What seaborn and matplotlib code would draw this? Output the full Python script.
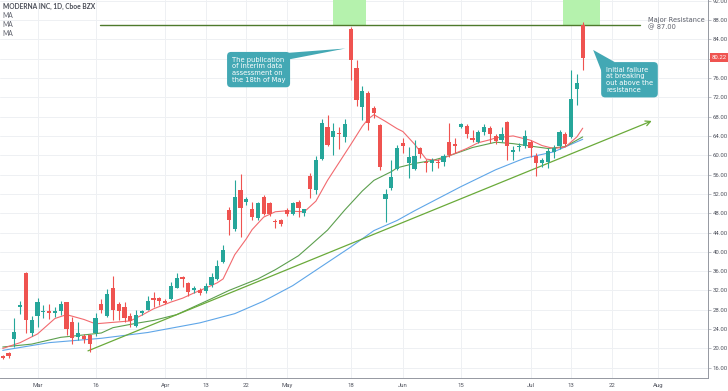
import matplotlib
matplotlib.use("Agg")
import matplotlib.pyplot as plt
from matplotlib.patches import Polygon, Rectangle
import matplotlib.transforms as mtransforms
import seaborn as sns
import pandas as pd
import numpy as np

# daily candles (Moderna, Cboe BZX), 21 Feb -> 15 Jul 2020
opens = [18.4, 19.0, 22.0, 28.6, 35.7, 23.1, 26.8, 27.5, 27.8, 27.3,
         27.7, 29.7, 25.4, 22.3, 22.6, 22.8, 23.3, 29.1, 26.8, 32.5,
         29.1, 28.5, 26.8, 24.7, 27.3, 28.0, 30.4, 30.4, 29.9, 30.3,
         32.5, 34.7, 33.6, 32.2, 32.1, 31.8, 33.2, 34.4, 37.9, 48.7,
         44.8, 52.7, 50.4, 48.9, 47.1, 51.3, 50.1, 46.4, 46.5, 48.6,
         47.9, 50.3, 48.1, 55.6, 52.9, 59.3, 65.9, 63.7, 64.6, 63.7,
         86.1, 78.0, 69.9, 72.9, 69.7, 66.2, 51.0, 53.3, 57.2, 62.6,
         58.4, 57.2, 61.4, 58.7, 58.3, 58.7, 58.6, 62.8, 62.4, 65.9,
         66.1, 63.5, 62.8, 64.8, 65.7, 63.9, 63.1, 66.8, 60.7, 61.7,
         61.9, 62.8, 59.8, 58.4, 58.6, 60.7, 61.9, 64.5, 63.8, 73.8,
         87.0]
highs = [18.7, 19.3, 26.3, 29.8, 35.8, 26.8, 30.5, 28.9, 29.3, 28.5,
         29.8, 29.7, 26.5, 25.4, 23.0, 23.0, 27.4, 30.3, 32.3, 35.1,
         29.7, 29.7, 27.3, 27.9, 28.0, 30.8, 31.7, 30.7, 30.2, 33.8,
         35.6, 34.9, 33.8, 33.0, 32.5, 33.5, 35.6, 38.3, 41.4, 49.2,
         54.8, 56.2, 51.4, 50.4, 50.4, 51.8, 50.4, 46.9, 46.7, 49.1,
         50.4, 50.7, 48.9, 56.3, 59.9, 67.6, 68.3, 66.6, 65.9, 67.4,
         86.6, 79.7, 74.3, 73.2, 70.2, 66.4, 53.1, 59.0, 62.1, 63.5,
         61.8, 63.1, 61.8, 59.2, 59.4, 59.2, 60.2, 66.6, 63.5, 66.7,
         66.5, 65.2, 65.2, 66.4, 66.1, 64.5, 65.9, 67.0, 61.9, 62.5,
         65.2, 63.2, 60.4, 59.4, 61.4, 62.1, 65.2, 64.9, 77.6, 76.9,
         87.6]
lows = [17.8, 18.1, 20.4, 27.1, 23.1, 22.6, 24.5, 26.3, 26.0, 26.5,
        27.0, 22.7, 21.0, 21.8, 21.2, 19.2, 22.6, 27.3, 26.6, 25.8,
        25.8, 25.4, 24.5, 24.5, 27.0, 27.9, 28.6, 29.0, 29.2, 30.1,
        32.5, 32.7, 30.9, 31.5, 31.0, 31.5, 32.8, 34.1, 37.6, 43.4,
        44.3, 43.0, 49.8, 46.6, 46.6, 47.6, 47.4, 44.9, 45.3, 47.5,
        47.6, 47.3, 47.5, 51.1, 52.0, 59.0, 61.9, 60.0, 61.2, 62.8,
        75.6, 70.2, 67.3, 65.2, 67.7, 56.9, 46.2, 52.8, 56.9, 60.4,
        55.2, 56.9, 59.5, 56.6, 56.7, 57.4, 57.8, 59.6, 60.4, 65.6,
        63.6, 62.8, 62.5, 64.2, 62.6, 62.3, 62.8, 59.0, 59.0, 60.8,
        61.4, 59.7, 55.8, 57.6, 57.3, 59.4, 61.2, 61.9, 63.5, 70.4,
        77.6]
closes = [18.0, 18.4, 23.5, 28.9, 25.9, 25.8, 29.7, 27.8, 27.3, 27.8,
          29.2, 24.0, 22.2, 23.3, 22.0, 21.0, 26.2, 28.0, 31.3, 28.0,
          27.8, 26.3, 25.6, 27.0, 27.7, 29.8, 30.0, 29.8, 29.4, 33.0,
          34.5, 34.3, 31.6, 32.4, 31.5, 33.0, 34.8, 37.0, 40.3, 46.6,
          51.3, 49.1, 51.0, 47.2, 50.1, 47.9, 47.8, 46.2, 45.8, 47.9,
          50.1, 49.1, 48.8, 53.1, 59.1, 66.7, 62.1, 65.0, 64.3, 66.4,
          79.8, 71.5, 73.3, 66.7, 68.8, 57.6, 52.0, 55.4, 61.4, 61.9,
          59.6, 59.8, 60.3, 58.3, 59.0, 58.3, 59.8, 60.0, 61.9, 66.4,
          64.3, 63.2, 64.8, 65.9, 64.5, 62.9, 64.5, 61.9, 61.0, 61.9,
          63.9, 61.4, 58.4, 59.0, 60.9, 61.4, 64.8, 62.4, 71.6, 74.9,
          80.22]

# moving averages read at sampled bars (bar number, value)
ma_fast_bar = [0, 3, 6, 9, 11, 14, 16, 19, 22, 24, 26, 29, 31, 33, 35, 37, 38, 40,
               42, 43, 45, 47, 49, 50, 52, 54, 56, 58, 60, 62, 63, 64, 66, 68, 69,
               71, 73, 75, 76, 78, 80, 82, 84, 85, 88, 90, 91, 93, 95, 97, 99, 100]
ma_fast_val = [20.0, 21.2, 23.0, 26.2, 27.0, 26.0, 25.1, 25.4, 25.7, 26.9, 28.2,
               29.6, 30.4, 31.5, 32.5, 33.6, 34.4, 39.4, 42.7, 44.6, 47.2, 48.3,
               48.5, 48.4, 48.3, 50.5, 54.8, 58.5, 62.2, 66.0, 67.5, 68.4, 67.0,
               65.5, 64.9, 62.3, 59.2, 58.9, 59.4, 60.4, 61.4, 62.6, 63.2, 63.6,
               64.0, 63.4, 63.1, 62.0, 61.4, 61.7, 63.8, 65.6]
ma_mid_bar = [0, 5, 10, 14, 17, 19, 23, 26, 30, 34, 36, 39, 44, 47, 51, 53, 56, 59,
              62, 64, 67, 68, 71, 74, 77, 81, 85, 88, 91, 94, 97, 100]
ma_mid_val = [20.3, 20.9, 22.3, 22.8, 23.2, 24.3, 25.2, 25.8, 27.0, 29.2, 30.3,
              32.0, 34.4, 36.3, 39.2, 41.3, 44.5, 48.7, 52.6, 54.8, 56.6, 57.4,
              58.3, 58.9, 59.9, 61.6, 62.7, 62.4, 61.9, 61.4, 61.8, 63.8]
ma_slow_bar = [0, 8, 17, 25, 34, 40, 45, 50, 55, 60, 64, 68, 71, 75, 79, 85, 90, 95, 100]
ma_slow_val = [19.6, 21.2, 22.1, 23.3, 25.3, 27.2, 29.8, 33.0, 37.0, 41.0, 44.4,
               46.5, 48.5, 51.0, 53.5, 57.0, 59.4, 60.7, 63.3]

tick_dates = ["2020-03-02", "2020-03-16", "2020-04-01", "2020-04-13", "2020-04-22",
              "2020-05-01", "2020-05-18", "2020-06-01", "2020-06-15", "2020-07-01",
              "2020-07-13", "2020-07-22", "2020-08-03"]
tick_labels = ["Mar", "16", "Apr", "13", "22", "May", "18", "Jun", "15", "Jul",
               "13", "22", "Aug"]

resistance = 87.0
last_price = 80.22

# trading-day calendar, TradingView squeezes out weekends and holidays
holidays = ["2020-04-10", "2020-05-25", "2020-07-03"]
cal = pd.bdate_range("2020-02-21", "2020-08-31", freq="C", holidays=holidays)
df = pd.DataFrame({"date": cal[:len(closes)], "open": opens, "high": highs,
                   "low": lows, "close": closes})
df["bar"] = np.arange(len(df))
tick_pos = [cal.get_loc(pd.Timestamp(d)) for d in tick_dates]

UP, DOWN = "#26a69a", "#ef5350"
TEAL = "#43a8b4"
GRID = "#eef0f3"
TXT = "#5d606b"

sns.set_theme(style="white")
plt.rcParams["font.family"] = ["DejaVu Sans"]

fig = plt.figure(figsize=(7.28, 3.91), dpi=100)
ax = fig.add_axes([0, 13 / 391, 708 / 728, 378 / 391])

ax.set_xlim(-0.47, 121.6)
ax.set_ylim(13.88, 92.14)

# grid
for v in np.arange(16, 93, 4):
    ax.axhline(v, color=GRID, lw=0.7, zorder=0)
for p in tick_pos:
    ax.axvline(p, color=GRID, lw=0.7, zorder=0)

# highlighted zones above the resistance
for a, b in [(56.9, 62.6), (96.6, 103.0)]:
    ax.add_patch(Rectangle((a, resistance), b - a, 10, color="#b5f2ad", lw=0, zorder=1))

# candles
up = df["close"] >= df["open"]
colors = np.where(up, UP, DOWN)
ax.vlines(df["bar"], df["low"], df["high"], colors=colors, lw=0.8, zorder=3)
body = (df["close"] - df["open"]).abs().clip(lower=0.25)
ax.bar(df["bar"], body, bottom=df[["open", "close"]].min(axis=1), width=0.7,
       color=colors, lw=0, zorder=4)

# moving averages
sns.lineplot(x=ma_slow_bar, y=ma_slow_val, color="#5fa6e8", lw=0.8, ax=ax, zorder=2)
sns.lineplot(x=ma_mid_bar, y=ma_mid_val, color="#5c9f4e", lw=0.8, ax=ax, zorder=2)
sns.lineplot(x=ma_fast_bar, y=ma_fast_val, color="#f26a6f", lw=0.8, ax=ax, zorder=2)

# resistance and trend line
ax.plot([16.8, 109.9], [resistance, resistance], color="#4e7a2c", lw=1, zorder=2)
ax.annotate("", xy=(111.9, 67.1), xytext=(14.7, 19.5),
            arrowprops=dict(arrowstyle="->", color="#6aaa3a", lw=0.9,
                            shrinkA=0, shrinkB=0, mutation_scale=9), zorder=2)
ax.text(111.2, 88.7, "Major Resistance\n@ 87.00", fontsize=4.8, color=TXT,
        va="top", ha="left", linespacing=1.15)

# callouts
ax.add_patch(Polygon([(47.0, 81.0), (59.1, 82.1), (49.6, 79.9)], closed=True,
                     color=TEAL, lw=0, zorder=5))
ax.text(39.5, 80.4, "The publication\nof interim data\nassessment on\nthe 18th of May",
        fontsize=4.9, color="white", va="top", ha="left", linespacing=1.12, zorder=6,
        bbox=dict(boxstyle="round,pad=0.7,rounding_size=0.6", fc=TEAL, ec="none"))
ax.add_patch(Polygon([(103.3, 77.2), (101.8, 81.8), (105.5, 79.3)], closed=True,
                     color=TEAL, lw=0, zorder=5))
ax.text(104.0, 78.3, "Initial failure\nat breaking\nout above the\nresistance",
        fontsize=4.9, color="white", va="top", ha="left", linespacing=1.12, zorder=6,
        bbox=dict(boxstyle="round,pad=0.7,rounding_size=0.6", fc=TEAL, ec="none"))

# header
ax.text(0.004, 0.992, "MODERNA INC, 1D, Cboe BZX", transform=ax.transAxes,
        fontsize=4.8, color="#4a4d57", fontweight="bold", family="Lato", va="top")
for i in range(3):
    ax.text(0.004, 0.968 - i * 0.024, "MA", transform=ax.transAxes,
            fontsize=4.8, color=TXT, family="Lato", va="top")

# axes
ax.yaxis.tick_right()
ax.set_yticks(np.arange(16, 93, 4))
ax.set_yticklabels([f"{v:.2f}" for v in np.arange(16, 93, 4)])
ax.set_xticks(tick_pos)
ax.set_xticklabels(tick_labels)
ax.tick_params(axis="both", labelsize=4.3, colors="#50535e", length=2, width=0.6, pad=1.5)
ax.tick_params(axis="both", color="#b2b5be")
for lab in ax.get_xticklabels() + ax.get_yticklabels():
    lab.set_family("Roboto")
for s in ["top", "left"]:
    ax.spines[s].set_visible(False)
for s in ["right", "bottom"]:
    ax.spines[s].set_color("#9598a1")
    ax.spines[s].set_linewidth(0.7)
ax.set_xlabel("")
ax.set_ylabel("")

# last price tag
tr = mtransforms.blended_transform_factory(ax.transAxes, ax.transData)
ax.text(1.005, last_price, f"{last_price:.2f}", transform=tr, fontsize=4.3,
        family="Roboto", color="white", va="center", ha="left", clip_on=False,
        zorder=7, bbox=dict(boxstyle="square,pad=0.3", fc=DOWN, ec="none"))

fig.savefig("out.png", dpi=100)
